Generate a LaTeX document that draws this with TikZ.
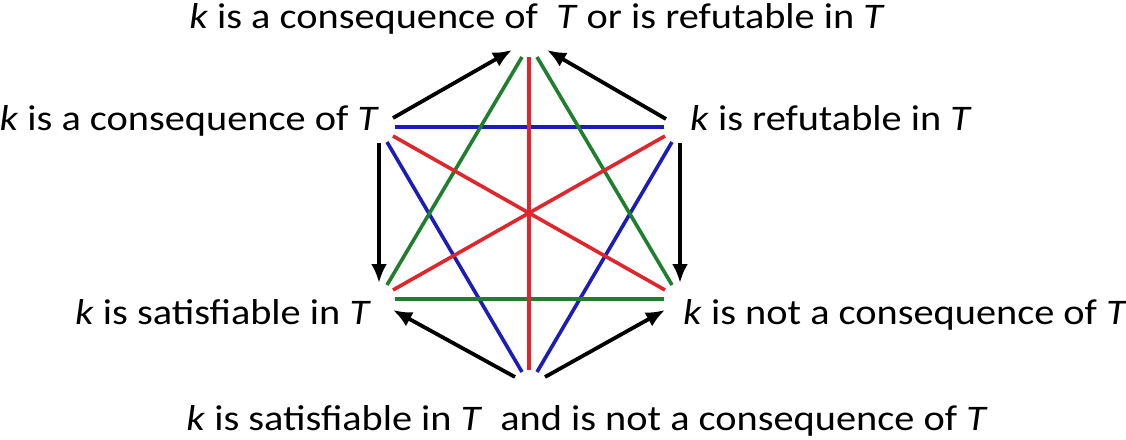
\documentclass[tikz,border=0pt]{standalone}
\usepackage{fontspec}
\setmainfont{Carlito}
\usetikzlibrary{arrows.meta,positioning}
\definecolor{edgeblue}{HTML}{1C1CB8}
\definecolor{edgered}{HTML}{E0262A}
\definecolor{edgegreen}{HTML}{1F7F2E}
\tikzset{
  vlabel/.style={inner sep=0pt,font=\fontsize{36}{42}\selectfont,text=black,xscale=1.12,transform shape},
  implarrow/.style={-{Latex[length=19pt,width=16pt]},line width=3.8pt,draw=black},
  oppline/.style={line width=3.6pt},
}

\begin{document}
\begin{tikzpicture}[x=1pt,y=-1pt]
    \useasboundingbox (0,0) rectangle (1126,439);
    % labels of the six corners
    \node[vlabel,anchor=base] (ortop) at (537,28) {\textit{k} is a consequence of\ \ \textit{T} or is refutable in \textit{T}};
    \node[vlabel,anchor=base east] (conseq) at (379,130) {\textit{k} is a consequence of \textit{T}};
    \node[vlabel,anchor=base west] (refut) at (690,130) {\textit{k} is refutable in \textit{T}};
    \node[vlabel,anchor=base east] (satis) at (371,324) {\textit{k} is satisfiable in \textit{T}};
    \node[vlabel,anchor=base west] (notcons) at (683,324) {\textit{k} is not a consequence of \textit{T}};
    \node[vlabel,anchor=base] (andbot) at (587,430) {\textit{k} is satisfiable in \textit{T}\ \ and is not a consequence of \textit{T}};
    % end points of the hexagon lines
    \coordinate (tl) at (522,57); \coordinate (tm) at (529,57); \coordinate (tr) at (537,57);
    \coordinate (ula) at (395,127); \coordinate (ulb) at (393,136); \coordinate (ulc) at (387,142);
    \coordinate (ura) at (664,127); \coordinate (urb) at (665,136); \coordinate (urc) at (672,142);
    \coordinate (lla) at (395,299); \coordinate (llb) at (393,290); \coordinate (llc) at (387,285);
    \coordinate (lra) at (664,299); \coordinate (lrb) at (665,290); \coordinate (lrc) at (672,285);
    \coordinate (bl) at (522,372); \coordinate (bm) at (529,370); \coordinate (br) at (537,372);
    \draw[oppline,edgeblue] (ula)--(ura);
    \draw[oppline,edgeblue] (ulc)--(bl);
    \draw[oppline,edgeblue] (urc)--(br);
    \draw[oppline,edgegreen] (lla)--(lra);
    \draw[oppline,edgegreen] (tl)--(llc);
    \draw[oppline,edgegreen] (tr)--(lrc);
    \draw[oppline,edgered] (tm)--(bm);
    \draw[oppline,edgered] (ulb)--(lrb);
    \draw[oppline,edgered] (urb)--(llb);
    % implication arrows
    \coordinate (a1) at (393,118); \coordinate (a2) at (512,50);
    \coordinate (b1) at (666,119); \coordinate (b2) at (547,50);
    \coordinate (c1) at (379,143); \coordinate (c2) at (379,283);
    \coordinate (d1) at (680,143); \coordinate (d2) at (680,283);
    \coordinate (e1) at (515,377); \coordinate (e2) at (393,310);
    \coordinate (f1) at (545,377); \coordinate (f2) at (665,310);
    \draw[implarrow] (a1)--(a2); \draw[implarrow] (b1)--(b2);
    \draw[implarrow] (c1)--(c2); \draw[implarrow] (d1)--(d2);
    \draw[implarrow] (e1)--(e2); \draw[implarrow] (f1)--(f2);
  \end{tikzpicture}
\end{document}
